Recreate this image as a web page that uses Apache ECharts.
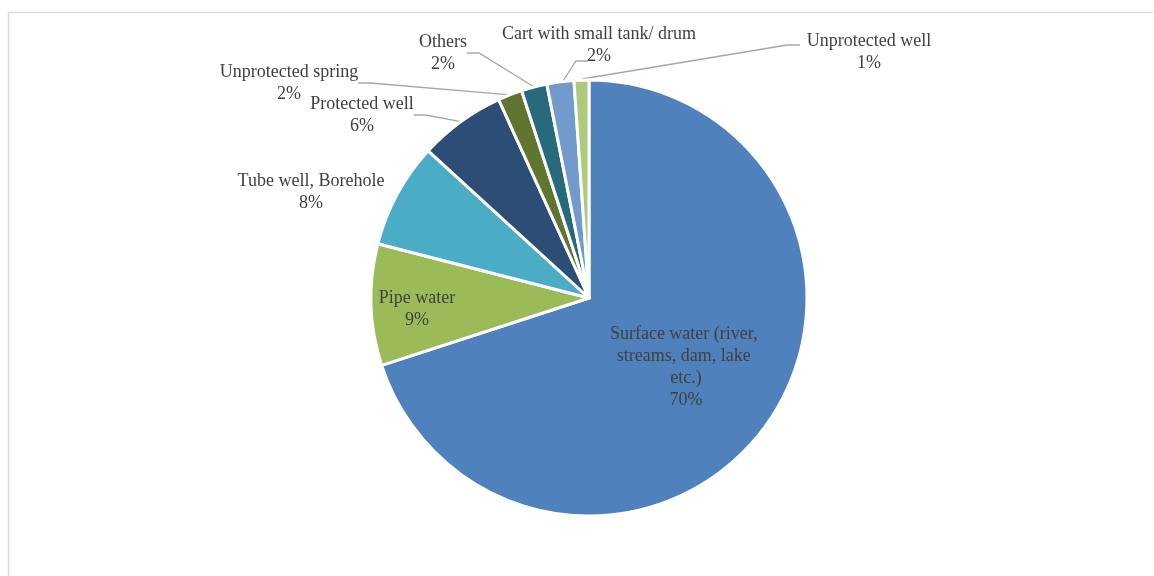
<!DOCTYPE html>
<html>
<head>
<meta charset="utf-8">
<script src="https://cdn.jsdelivr.net/npm/echarts@6/dist/echarts.min.js"></script>
<style>
html,body{margin:0;padding:0;background:#fff;}
#chart{width:1154px;height:576px;}
</style>
</head>
<body>
<div id="chart"></div>
<script>
const categories = ['Surface water (river, streams, dam, lake etc.)', 'Pipe water', 'Tube well, Borehole', 'Protected well', 'Unprotected spring', 'Others', 'Cart with small tank/ drum', 'Unprotected well'];
const values = [70.0, 9.0, 7.8, 6.4, 1.8, 1.9, 2.0, 1.1];
const colors = ['#4F81BD', '#9BBB59', '#4BACC6', '#2C4D75', '#5F7530', '#276A7C', '#729ACA', '#AFC97A'];
// label anchor positions (centre of each label block)
const labelPos = [[686, 367], [417, 309], [311, 192], [362, 115], [289, 83], [443, 53], [599, 45], [869, 52]];
// explicit leader lines for the two smallest top slices
const leaderLines = { 6: [[563, 81], [576, 61], [588, 61]], 7: [[582, 79], [787, 45], [800, 45]] };

const chart = echarts.init(document.getElementById('chart'));
const textColor = '#404040';
const font = 'Liberation Serif, Times New Roman, serif';

chart.setOption({
  animation: false,
  graphic: [
    { type: 'line', shape: { x1: 8.5, y1: 12.5, x2: 1153, y2: 12.5 }, style: { stroke: '#d9d9d9', lineWidth: 1.5 } },
    { type: 'line', shape: { x1: 8.5, y1: 12.5, x2: 8.5, y2: 576 }, style: { stroke: '#d9d9d9', lineWidth: 1.5 } }
  ],
  series: [{
    type: 'pie',
    center: [589, 298],
    radius: 218,
    startAngle: 90,
    clockwise: true,
    avoidLabelOverlap: false,
    percentPrecision: 0,
    itemStyle: { borderColor: '#ffffff', borderWidth: 3 },
    label: {
      show: true,
      position: 'outside',
      formatter: '{b}\n{d}%',
      fontFamily: font,
      fontSize: 18,
      lineHeight: 22,
      color: textColor,
      align: 'center'
    },
    labelLine: { show: true, length: 10, length2: 12, lineStyle: { color: '#a6a6a6', width: 1.3 } },
    labelLayout: function (p) {
      const pos = labelPos[p.dataIndex];
      const res = { x: pos[0], y: pos[1], align: 'center', verticalAlign: 'middle' };
      if (leaderLines[p.dataIndex]) res.labelLinePoints = leaderLines[p.dataIndex];
      return res;
    },
    emphasis: { disabled: true },
    data: categories.map(function (c, i) {
      const d = { name: c, value: values[i], itemStyle: { color: colors[i] } };
      if (i === 0) {
        d.label = { position: 'inside', width: 158, overflow: 'break' };
        d.labelLine = { show: false };
      } else if (i === 1) {
        d.label = { position: 'inside' };
        d.labelLine = { show: false };
      } else if (i === 2) {
        d.labelLine = { show: false };
      }
      return d;
    })
  }]
});
</script>
</body>
</html>
